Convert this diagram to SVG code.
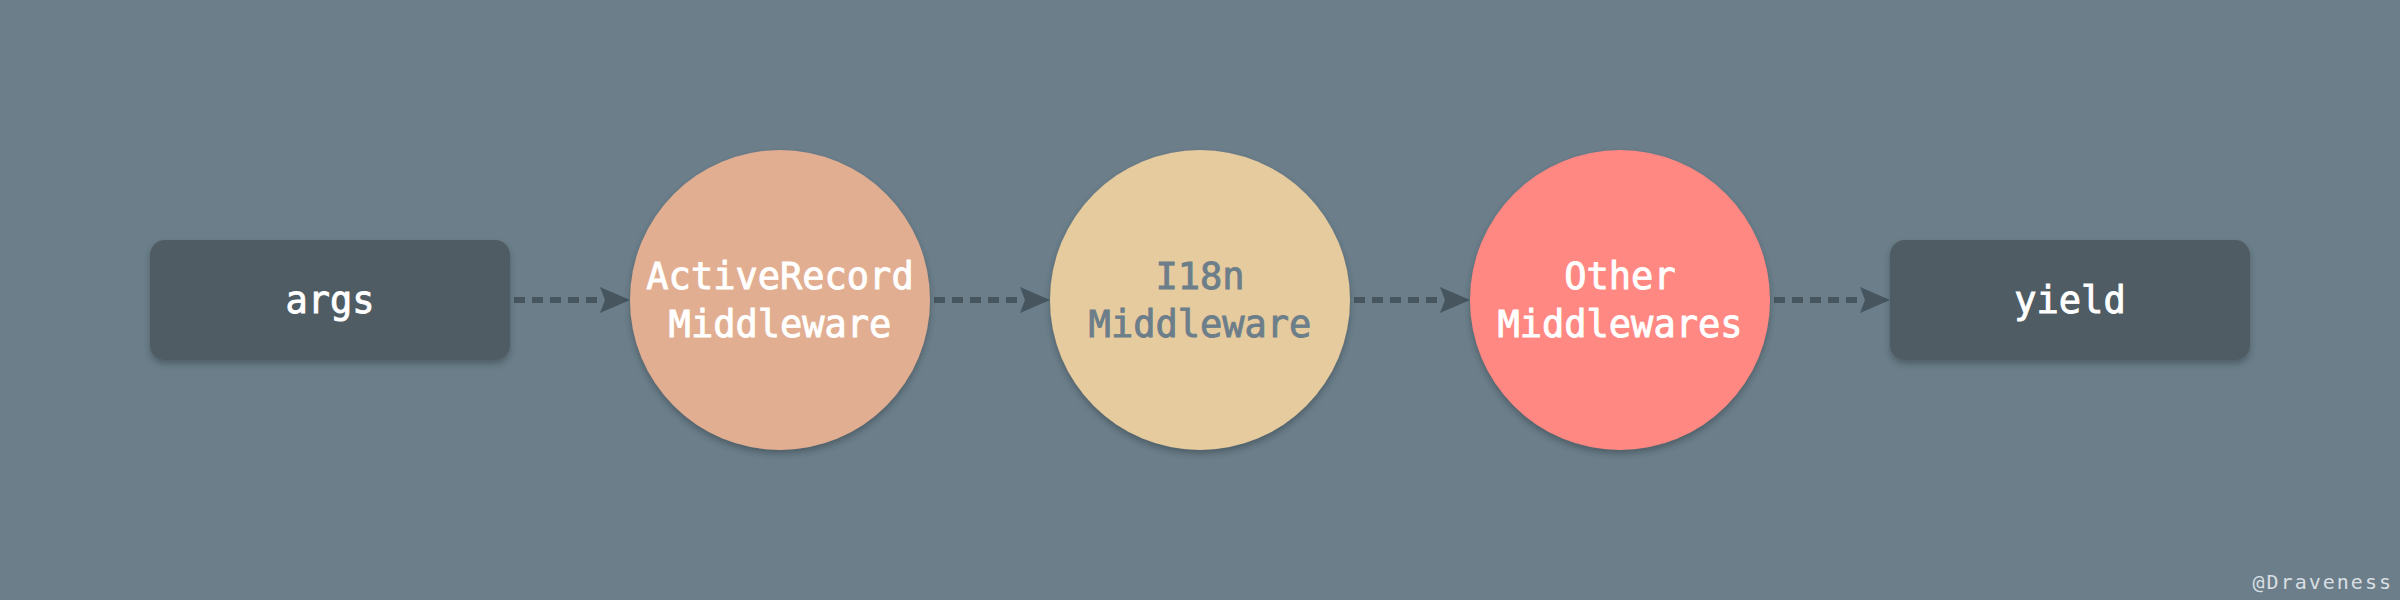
<svg xmlns="http://www.w3.org/2000/svg" width="2400" height="600" viewBox="0 0 2400 600">
  <defs>
    <style>
      .bg { fill: #6B7E8A; }
      .box { fill: #505C63; filter: url(#shadow); }
      .node { filter: url(#shadow); }
      .lbl { font-family: "DejaVu Sans Mono", "Liberation Mono", monospace; font-size: 37px; font-weight: normal; text-anchor: middle; fill: #FFFFFF; stroke: #FFFFFF; stroke-width: 0.9px; }
      .dark { fill: #6B7E8A; stroke: #6B7E8A; }
      .edge { stroke: #46555E; stroke-width: 6; stroke-dasharray: 11 7; fill: none; }
      .head { fill: #46555E; }
      .mark { font-family: "DejaVu Sans Mono", "Liberation Mono", monospace; font-size: 20px; fill: #D9DEE2; text-anchor: end; letter-spacing: 2px; }
    </style>
    <filter id="shadow" x="-20%" y="-20%" width="140%" height="150%">
      <feDropShadow dx="0" dy="4" stdDeviation="3" flood-color="#2E3A40" flood-opacity="0.45"/>
    </filter>
  </defs>
  <rect class="bg" x="0" y="0" width="2400" height="600"/>

  <g id="connectors">
    <line class="edge" x1="514" y1="300" x2="602" y2="300"/>
    <path class="head" d="M600,287 L630,300 L600,313 L605,300 Z"/>
    <line class="edge" x1="934" y1="300" x2="1022" y2="300"/>
    <path class="head" d="M1020,287 L1050,300 L1020,313 L1025,300 Z"/>
    <line class="edge" x1="1354" y1="300" x2="1442" y2="300"/>
    <path class="head" d="M1440,287 L1470,300 L1440,313 L1445,300 Z"/>
    <line class="edge" x1="1774" y1="300" x2="1862" y2="300"/>
    <path class="head" d="M1860,287 L1890,300 L1860,313 L1865,300 Z"/>
  </g>

  <g id="args">
    <rect class="box" x="150" y="240" width="360" height="120" rx="15" ry="15"/>
    <text class="lbl" x="330" y="313">args</text>
  </g>

  <g id="activerecord">
    <circle class="node" cx="780" cy="300" r="150" fill="#E2AE91"/>
    <text class="lbl" x="780" y="289">ActiveRecord</text>
    <text class="lbl" x="780" y="337">Middleware</text>
  </g>

  <g id="i18n">
    <circle class="node" cx="1200" cy="300" r="150" fill="#E6CB9F"/>
    <text class="lbl dark" x="1200" y="289">I18n</text>
    <text class="lbl dark" x="1200" y="337">Middleware</text>
  </g>

  <g id="other">
    <circle class="node" cx="1620" cy="300" r="150" fill="#FF8882"/>
    <text class="lbl" x="1620" y="289">Other</text>
    <text class="lbl" x="1620" y="337">Middlewares</text>
  </g>

  <g id="yield">
    <rect class="box" x="1890" y="240" width="360" height="120" rx="15" ry="15"/>
    <text class="lbl" x="2070" y="313">yield</text>
  </g>

  <text class="mark" x="2393" y="589">@Draveness</text>
</svg>
